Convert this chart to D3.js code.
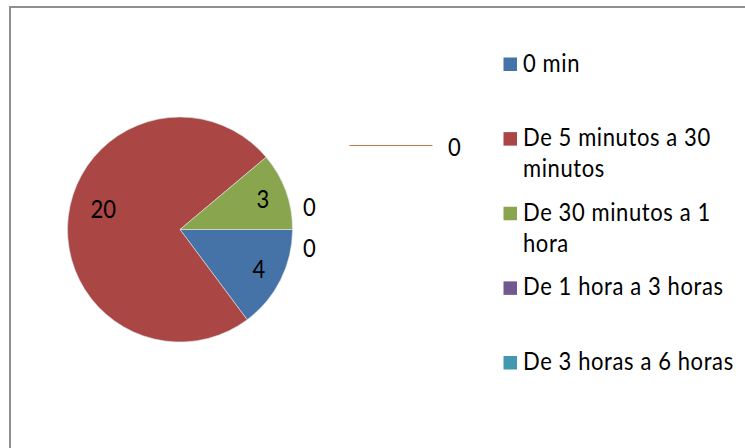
<!DOCTYPE html>
<html>
<head>
<meta charset="utf-8">
<script src="https://cdn.jsdelivr.net/npm/d3@7"></script>
<style>
  body { margin: 0; background: #fff; }
  text { font-family: Lato, "Open Sans", sans-serif; fill: #000; }
</style>
</head>
<body>
<div id="chart"></div>
<script>
// chart data
var categories = ["0 min", "De 5 minutos a 30 minutos", "De 30 minutos a 1 hora",
                  "De 1 hora a 3 horas", "De 3 horas a 6 horas", ""];
var values = [4, 20, 3, 0, 0, 0];
var colors = ["#4572A7", "#AA4643", "#89A54E", "#71588F", "#4198AF", "#DB843D"];

var svgWidth = 745, svgHeight = 448;
var cx = 180, cy = 229.5, radius = 112.5;
var fontSize = 22, stretch = 1.1;

var svg = d3.select("#chart")
    .append("svg")
    .attr("width", svgWidth)
    .attr("height", svgHeight);

// chart area border (runs off the right and bottom edges)
svg.append("rect")
    .attr("x", 10).attr("y", 7)
    .attr("width", 760).attr("height", 460)
    .attr("fill", "none")
    .attr("stroke", "#8f8f8f")
    .attr("stroke-width", 2);

var data = categories.map(function(c, i){
    return {name: c, value: values[i], color: colors[i]};
});

// first slice starts at 3 o'clock, going clockwise
var pie = d3.pie()
    .value(d => d.value)
    .sort(null)
    .startAngle(Math.PI / 2)
    .endAngle(Math.PI / 2 + 2 * Math.PI);

var arc = d3.arc().innerRadius(0).outerRadius(radius);
var labelArc = d3.arc().innerRadius(radius * 0.785).outerRadius(radius * 0.785);

var pieGroup = svg.append("g")
    .attr("transform", `translate(${cx}, ${cy})`);

var arcs = pie(data);

pieGroup.selectAll("path")
    .data(arcs.filter(d => d.value > 0))
    .enter()
    .append("path")
    .attr("d", arc)
    .attr("fill", d => d.data.color)
    .attr("stroke", "#dfe6ee")
    .attr("stroke-width", 0.6);

// helper: text drawn a bit taller than wide, like the original
function addText(g, x, y, str, anchor){
    return g.append("text")
        .attr("transform", `translate(${x}, ${y}) scale(1, ${stretch})`)
        .attr("text-anchor", anchor || "middle")
        .attr("dy", "0.36em")
        .style("font-size", fontSize + "px")
        .text(str);
}

// labels for the non zero slices
var nudges = {1: [11, -10]};
arcs.forEach(function(d, i){
    if (d.value === 0) return;
    var c = labelArc.centroid(d);
    var n = nudges[i] || [0, 0];
    addText(pieGroup, c[0] + n[0], c[1] + n[1], d.value);
});

// zero slices: labels stacked at the right edge, the last one on a leader
var zeros = arcs.filter(d => d.value === 0);
zeros.forEach(function(d, k){
    var ang = d.startAngle;
    var ex = Math.sin(ang) * radius, ey = -Math.cos(ang) * radius;
    if (k < 2) {
        addText(pieGroup, ex + 17, ey + (k === 0 ? -22 : 19), d.value);
    } else {
        pieGroup.append("line")
            .attr("x1", ex + 57).attr("x2", ex + 140)
            .attr("y1", ey - 84).attr("y2", ey - 84)
            .attr("stroke", "#c07a45")
            .attr("stroke-width", 1);
        addText(pieGroup, ex + 162, ey - 82.5, d.value);
    }
});

// legend
var legendData = data.filter(d => d.name !== "");
var legendY = d3.scalePoint()
    .domain(legendData.map(d => d.name))
    .range([71.5, 370]);
var legendX = 503.5, boxSize = 13.5, maxTextWidth = 218, lineHeight = 31;

var legend = svg.append("g");

legendData.forEach(function(d){
    var base = legendY(d.name);
    legend.append("rect")
        .attr("x", legendX)
        .attr("y", base - boxSize - 0.5)
        .attr("width", boxSize)
        .attr("height", boxSize)
        .attr("fill", d.color);

    var t = legend.append("text")
        .attr("transform", `translate(${legendX + boxSize + 6}, ${base}) scale(1, ${stretch})`)
        .style("font-size", fontSize + "px")
        .style("letter-spacing", "0.6px");

    // wrap words onto a second line when too wide
    var words = d.name.split(" ");
    var line = [], lineNo = 0;
    var tspan = t.append("tspan").attr("x", 0).attr("y", 0);
    words.forEach(function(w){
        line.push(w);
        tspan.text(line.join(" "));
        if (tspan.node().getComputedTextLength() > maxTextWidth && line.length > 1) {
            line.pop();
            tspan.text(line.join(" "));
            line = [w];
            lineNo++;
            tspan = t.append("tspan").attr("x", 0)
                .attr("y", lineNo * lineHeight / stretch)
                .text(w);
        }
    });
});
</script>
</body>
</html>
